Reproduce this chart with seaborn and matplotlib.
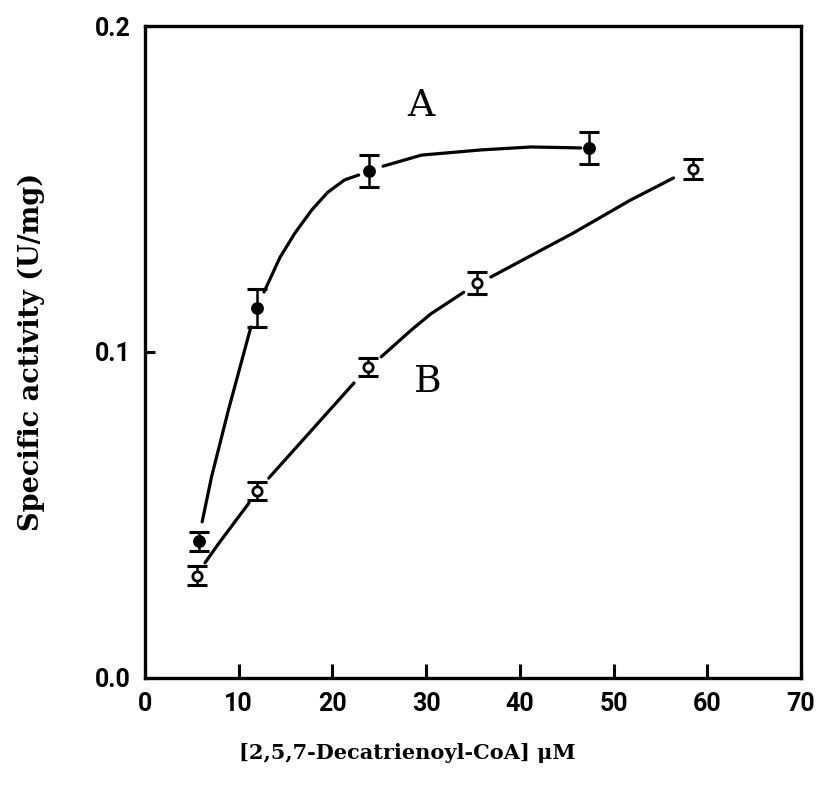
import numpy as np
import pandas as pd
import matplotlib
matplotlib.use("Agg")
import matplotlib.pyplot as plt
import seaborn as sns

# ---- data ----
conc_A = [5.8, 12.0, 23.9, 47.4]
act_A = [0.042, 0.1135, 0.1555, 0.1626]
err_A = [0.0029, 0.0057, 0.0048, 0.0049]

conc_B = [5.6, 11.9, 23.8, 35.4, 58.5]
act_B = [0.0313, 0.0574, 0.0954, 0.1212, 0.1561]
err_B = [0.0029, 0.0028, 0.0028, 0.0034, 0.0031]

# fitted curves as drawn (segments broken around the markers)
curveA_x = [6.1, 7.1, 8.9, 11.3, 12.7, 14.4, 16.0, 17.8, 19.5, 21.3, 22.8,
            25.4, 29.5, 35.9, 41.2, 46.5]
curveA_y = [0.0479, 0.0617, 0.0822, 0.1077, 0.1184, 0.129, 0.1365, 0.1436, 0.1490, 0.1528, 0.1543,
            0.157, 0.1604, 0.162, 0.1629, 0.1626]
curveA_seg = [0, 0, 0, 0, 1, 1, 1, 1, 1, 1, 1, 2, 2, 2, 2, 2]

curveB_x = [6.4, 7.9, 11.1, 13.2, 22.3, 25.2, 28.4, 30.5, 34.0, 36.9, 45.7, 51.8, 56.4]
curveB_y = [0.0353, 0.0414, 0.0537, 0.0613, 0.0905, 0.0985, 0.1067, 0.1117, 0.1183,
            0.123, 0.1365, 0.1466, 0.1534]
curveB_seg = [0, 0, 0, 1, 1, 2, 2, 2, 2, 3, 3, 3, 3]

x_ticks = [0, 10, 20, 30, 40, 50, 60, 70]
y_ticks = [0.0, 0.1, 0.2]
y_ticklabels = ["0.0", "0.1", "0.2"]

sns.set_theme(style="white")
plt.rcParams["font.family"] = ["Roboto", "DejaVu Sans"]
plt.rcParams["font.weight"] = "bold"
plt.rcParams["text.color"] = "black"
plt.rcParams["axes.labelcolor"] = "black"
plt.rcParams["xtick.color"] = "black"
plt.rcParams["ytick.color"] = "black"

fig = plt.figure(figsize=(8.22, 7.91), dpi=100)
ax = fig.add_axes([0.1764, 0.1429, 0.7981, 0.8242])

dfA = pd.DataFrame({"x": curveA_x, "y": curveA_y, "seg": curveA_seg})
dfB = pd.DataFrame({"x": curveB_x, "y": curveB_y, "seg": curveB_seg})
sns.lineplot(data=dfA, x="x", y="y", units="seg", estimator=None, color="black",
             linewidth=2.3, ax=ax, sort=False)
sns.lineplot(data=dfB, x="x", y="y", units="seg", estimator=None, color="black",
             linewidth=2.3, ax=ax, sort=False)

ax.errorbar(conc_A, act_A, yerr=err_A, fmt="none", ecolor="black", elinewidth=1.8,
            capsize=7, capthick=2.2, zorder=3)
ax.errorbar(conc_B, act_B, yerr=err_B, fmt="none", ecolor="black", elinewidth=1.8,
            capsize=7, capthick=2.2, zorder=3)

sns.scatterplot(x=conc_A, y=act_A, ax=ax, color="black", s=60, marker="o",
                edgecolor="black", linewidth=1.5, zorder=4)
sns.scatterplot(x=conc_B, y=act_B, ax=ax, color="white", s=45, marker="o",
                edgecolor="black", linewidth=2.0, zorder=4)

ax.set_xlim(0, 70)
ax.set_ylim(0, 0.2)
ax.set_xticks(x_ticks)
ax.set_yticks(y_ticks)
ax.set_yticklabels(y_ticklabels)

for s in ax.spines.values():
    s.set_color("black")
    s.set_linewidth(2.4)

ax.tick_params(axis="x", direction="in", length=10, width=2.2, pad=10,
               labelsize=18, bottom=True, top=False, colors="black")
ax.tick_params(axis="y", direction="in", length=7, width=2.2, pad=10,
               labelsize=18, left=True, right=False, colors="black")

ax.set_xlabel("[2,5,7-Decatrienoyl-CoA] \u03bcM", fontsize=15, fontweight="bold",
              family=["DejaVu Serif"], color="black")
ax.xaxis.set_label_coords(0.40, -0.10)
ax.set_ylabel("Specific activity (U/mg)", fontsize=19.5, fontweight="bold",
              family=["DejaVu Serif"], labelpad=36, color="black")

ax.text(29.4, 0.1755, "A", fontsize=27, fontweight="normal", family=["DejaVu Serif"],
        ha="center", va="center", color="black")
ax.text(30.2, 0.0908, "B", fontsize=27, fontweight="normal", family=["DejaVu Serif"],
        ha="center", va="center", color="black")

fig.savefig("out.png", dpi=100)
